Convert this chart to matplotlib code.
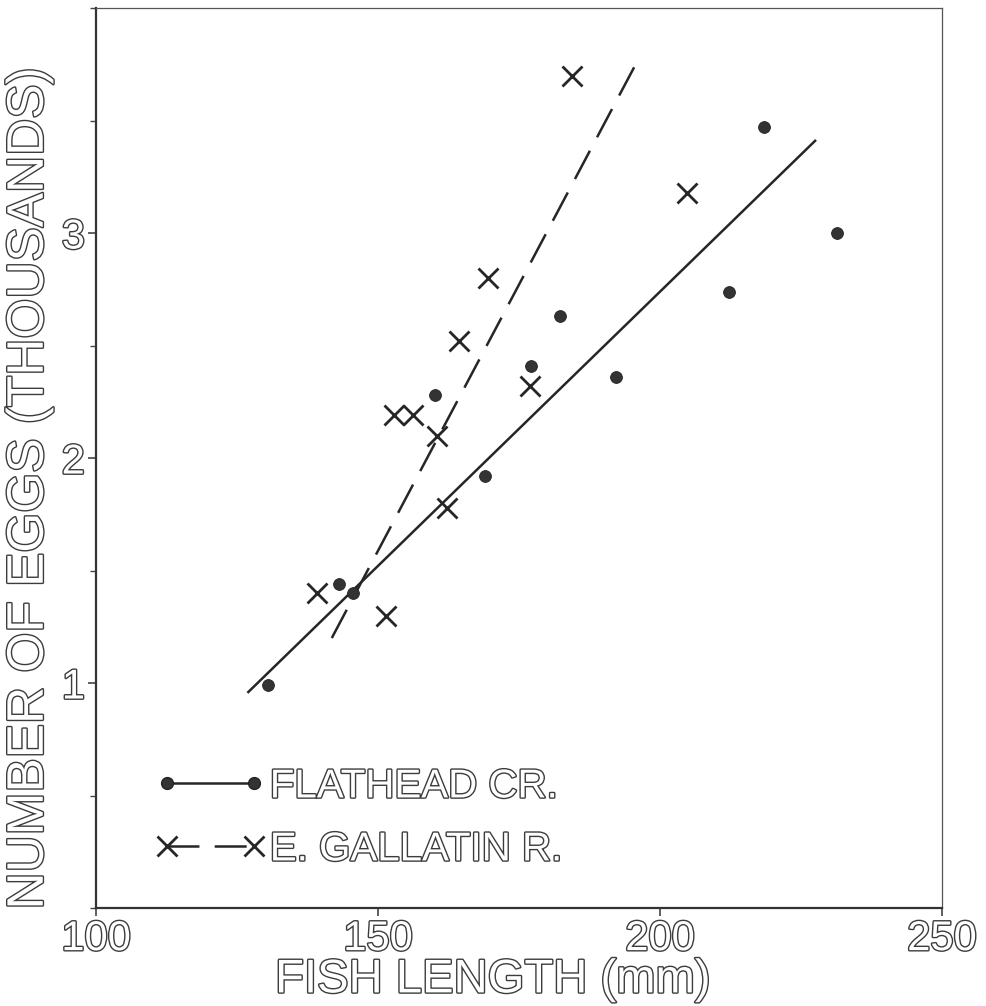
import matplotlib
matplotlib.use('Agg')
import matplotlib.pyplot as plt
import matplotlib.patheffects as pe
from matplotlib.lines import Line2D
from matplotlib.legend_handler import HandlerLine2D
from matplotlib.ticker import MultipleLocator

# Flathead Creek
flat_len = [130.5, 143.1, 145.6, 160.1, 169.0, 177.1, 182.3, 192.2, 212.2, 218.4, 231.4]
flat_eggs = [0.99, 1.44, 1.40, 2.28, 1.92, 2.41, 2.63, 2.36, 2.74, 3.47, 3.00]
# East Gallatin River
gal_len = [139.2, 151.4, 152.8, 156.2, 160.5, 162.2, 164.4, 169.5, 177.0, 184.4, 204.8]
gal_eggs = [1.40, 1.30, 2.19, 2.19, 2.10, 1.78, 2.52, 2.80, 2.32, 3.70, 3.18]
# fitted lines, end points
flat_fit_x = [127.0, 227.5]
flat_fit_y = [0.96, 3.41]
gal_fit_x = [141.8, 195.9]
gal_fit_y = [1.20, 3.76]

x_ticks = [100, 150, 200, 250]
y_ticks = [1, 2, 3]

plt.rcParams['font.family'] = ['Liberation Sans', 'DejaVu Sans']
plt.rcParams['lines.scale_dashes'] = False

ink = '#262626'
txt = '#3c3c3c'
hollow = [pe.withStroke(linewidth=2.0, foreground=txt)]
dash = (0, (23, 11))

fig = plt.figure(figsize=(9.86, 10.06), dpi=100)
ax = fig.add_axes([0.0974, 0.0974, 0.858, 0.8946])

ax.plot(flat_fit_x, flat_fit_y, color=ink, lw=1.8)
ax.plot(gal_fit_x, gal_fit_y, color=ink, lw=1.8, linestyle=dash)
ax.plot(flat_len, flat_eggs, 'o', color='#333333', ms=8.5, mec='#222222', mew=0.6)
ax.plot(gal_len, gal_eggs, 'x', color=ink, ms=14, mew=2.0)

ax.set_xlim(100, 250)
ax.set_ylim(0, 4)
ax.set_xticks(x_ticks)
ax.set_yticks(y_ticks)
ax.yaxis.set_minor_locator(MultipleLocator(0.5))
ax.tick_params(which='both', direction='out', color='#444444', labelsize=30,
               labelcolor='white', pad=2)
ax.tick_params(which='major', length=6, width=1.2)
ax.tick_params(which='minor', length=4, width=1.0)
for lbl in ax.get_xticklabels() + ax.get_yticklabels():
    lbl.set_path_effects(hollow)

for side in ['left', 'bottom']:
    ax.spines[side].set_linewidth(1.6)
    ax.spines[side].set_color('#333333')
for side in ['top', 'right']:
    ax.spines[side].set_linewidth(0.9)
    ax.spines[side].set_color('#555555')

ax.set_xlabel('FISH LENGTH (mm)', fontsize=34, color='white', path_effects=hollow)
ax.xaxis.set_label_coords(0.469, -0.056)
ax.set_ylabel('NUMBER OF EGGS (THOUSANDS)', fontsize=37, color='white', path_effects=hollow)
ax.yaxis.set_label_coords(-0.05, 0.466)

h1 = Line2D([], [], color=ink, lw=1.8, marker='o', ms=8.5, mfc='#333333', mec='#222222')
h2 = Line2D([], [], color=ink, lw=1.8, linestyle=dash, marker='x', ms=14, mew=2.0)
leg = ax.legend([h1, h2], ['FLATHEAD CR.', 'E. GALLATIN R.'], numpoints=2,
                handler_map={Line2D: HandlerLine2D(marker_pad=0)},
                loc='lower left', bbox_to_anchor=(0.084, 0.044), frameon=False,
                fontsize=29, handlelength=2.15, handletextpad=0.4,
                labelspacing=0.62, borderpad=0, borderaxespad=0)
for t in leg.get_texts():
    t.set_color('white')
    t.set_path_effects(hollow)

fig.savefig('out.png', dpi=100, facecolor='white')
